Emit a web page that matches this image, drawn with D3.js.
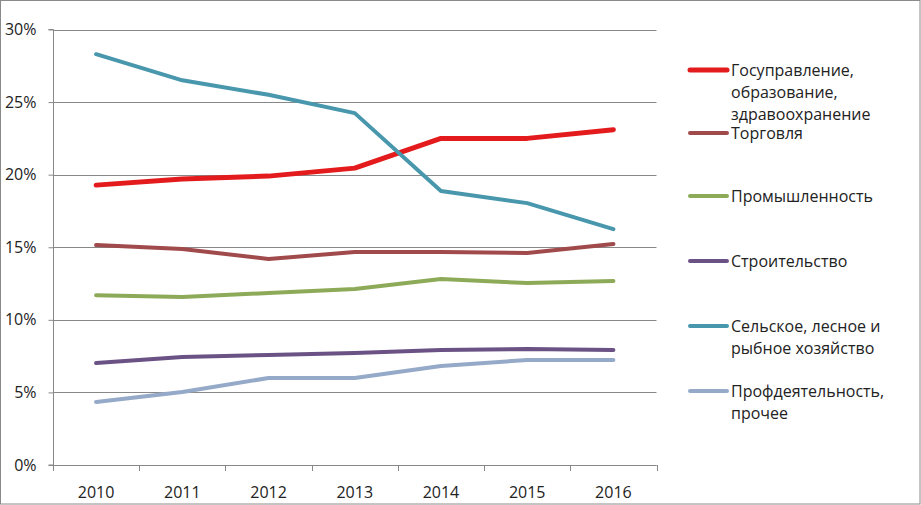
<!DOCTYPE html>
<html><head><meta charset="utf-8">
<script src="https://cdn.jsdelivr.net/npm/d3@7"></script>
<style>body{margin:0;background:#fff}svg{display:block}text{font-family:"Open Sans",sans-serif;fill:#222}</style>
</head><body><svg id="c" width="921" height="505"></svg>
<script>
const years = ["2010","2011","2012","2013","2014","2015","2016"];
const yTicks = [0,5,10,15,20,25,30];
const seriesNames = [
  ["Госуправление,","образование,","здравоохранение"],
  ["Торговля"],
  ["Промышленность"],
  ["Строительство"],
  ["Сельское, лесное и","рыбное хозяйство"],
  ["Профдеятельность,","прочее"]
];
const gov   = [19.28,19.7,19.9,20.45,22.5,22.5,23.1];
const trade = [15.15,14.88,14.19,14.67,14.67,14.6,15.22];
const ind   = [11.7,11.57,11.85,12.12,12.81,12.53,12.67];
const cons  = [7.02,7.44,7.58,7.71,7.92,7.99,7.92];
const agri  = [28.3,26.5,25.5,24.24,18.87,18.04,16.25];
const prof  = [4.34,5.03,5.99,5.99,6.82,7.23,7.23];
const colors = ["#E31B1D","#A14A4B","#8DAA58","#6A5285","#4897AD","#95A9C8"];
const widths = [5,4,4,4,4,4];
const values = [gov,trade,ind,cons,agri,prof];
const legendY = [70,133,196,261,326,391];

const svg = d3.select("#c");
svg.append("rect").attr("x",0.5).attr("y",0.5).attr("width",919.5).attr("height",503.5).attr("fill","#fff").attr("stroke","#8a8a8a");

const L=53, R=656.5, T=29.5, B=465;
const x = d3.scaleBand().domain(years).range([L,R]);
const y = d3.scaleLinear().domain([0,30]).range([B,T]);

// gridlines
svg.append("g").selectAll("line").data(yTicks).join("line")
  .attr("x1",L).attr("x2",R).attr("y1",d=>Math.round(y(d))+0.5).attr("y2",d=>Math.round(y(d))+0.5)
  .attr("stroke","#888").attr("stroke-width",1);

// y axis
const ya = svg.append("g").attr("transform",`translate(${L+0.5},0)`)
  .call(d3.axisLeft(y).tickValues(yTicks).tickSize(5).tickFormat(d=>d+"%"));
ya.select(".domain").attr("stroke","#888").attr("d",`M-5,${T}H0V${B}H-5`);
ya.selectAll(".tick line").attr("stroke","#888");
ya.selectAll(".tick text").attr("x",-17).attr("font-size",16).attr("font-family","Open Sans").attr("fill","#222");

// x axis
const xa = svg.append("g").attr("transform",`translate(0,${B+0.5})`)
  .call(d3.axisBottom(x).tickSize(0).tickFormat(d=>d));
xa.select(".domain").attr("stroke","#888").attr("d",`M${L},0H${R}`);
xa.selectAll(".tick text").attr("dy",0).attr("y",32).attr("font-size",16).attr("font-family","Open Sans").attr("fill","#222");
svg.append("g").selectAll("line").data(d3.range(years.length+1)).join("line")
  .attr("x1",i=>Math.round(L+i*x.step())+0.5).attr("x2",i=>Math.round(L+i*x.step())+0.5)
  .attr("y1",B).attr("y2",B+6).attr("stroke","#888");

const line = d3.line().x((d,i)=>x(years[i])+x.bandwidth()/2).y(d=>y(d));
values.forEach((v,k)=>{
  svg.append("path").attr("d",line(v)).attr("fill","none").attr("stroke",colors[k])
    .attr("stroke-width",widths[k]).attr("stroke-linejoin","round").attr("stroke-linecap","round");
});

// legend
seriesNames.forEach((names,k)=>{
  const g = svg.append("g");
  g.append("line").attr("x1",690).attr("x2",727).attr("y1",legendY[k]).attr("y2",legendY[k])
    .attr("stroke",colors[k]).attr("stroke-width",widths[k]).attr("stroke-linecap","round");
  names.forEach((n,j)=>{
    g.append("text").attr("x",731).attr("y",legendY[k]+j*22).attr("dy","0.35em")
      .attr("font-size",16).text(n);
  });
});
</script></body></html>
